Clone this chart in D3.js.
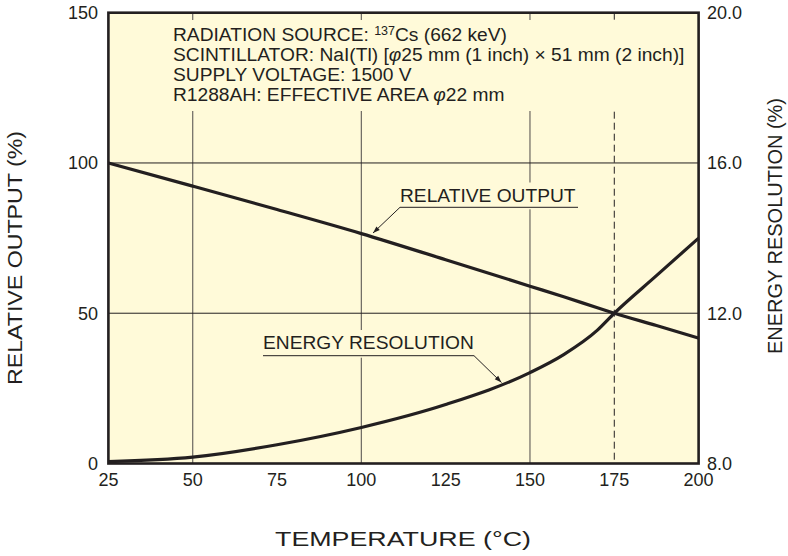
<!DOCTYPE html>
<html><head><meta charset="utf-8">
<script src="https://cdn.jsdelivr.net/npm/d3@7"></script>
<style>
body{margin:0;background:#fff;}
text{font-family:"Liberation Sans",Arial,sans-serif;fill:#231f20;}
</style></head>
<body><svg id="c" width="788" height="556"></svg>
<script>
// ---- data ----
const temperature = [25, 50, 75, 100, 125, 150, 160, 170, 175, 187.5, 200];
const relativeOutput = [100, 92.3, 84.5, 76.5, 67.8, 59, 55.5, 51.8, 50, 45.9, 41.7];
const energyResolution = [8.05, 8.17, 8.5, 8.96, 9.57, 10.42, 10.9, 11.55, 12.0, 13.0, 14.0];
const xTicks = [25, 50, 75, 100, 125, 150, 175, 200];
const leftTicks = [0, 50, 100, 150];
const rightTicks = [8.0, 12.0, 16.0, 20.0];
const vGrid = [50, 100, 150];
const hGrid = [50, 100];
const dashedAt = 175;
const notes = [
  [{t:"RADIATION SOURCE: "},{t:"137",sup:true},{t:"Cs (662 keV)",after:true}],
  [{t:"SCINTILLATOR: NaI(Tl) ["},{t:"\u03c6",it:true},{t:"25 mm (1 inch) \u00d7 51 mm (2 inch)]"}],
  [{t:"SUPPLY VOLTAGE: 1500 V"}],
  [{t:"R1288AH: EFFECTIVE AREA "},{t:"\u03c6",it:true},{t:"22 mm"}]
];

const ink = "#231f20", bg = "#fffad9";
const svg = d3.select("#c");
const L = 108.4, R = 698.6, T = 12.7, B = 463.5;
const x = d3.scaleLinear().domain([25, 200]).range([L, R]);
const yL = d3.scaleLinear().domain([0, 150]).range([B, T]);
const yR = d3.scaleLinear().domain([8, 20]).range([B, T]);

svg.append("rect").attr("x", L).attr("y", T).attr("width", R - L).attr("height", B - T).attr("fill", bg);

// grid
svg.selectAll(".vg").data(vGrid).enter().append("line")
  .attr("x1", d => x(d)).attr("x2", d => x(d)).attr("y1", T).attr("y2", B)
  .attr("stroke", "#6b6660").attr("stroke-width", 1.2);
svg.selectAll(".hg").data(hGrid).enter().append("line")
  .attr("x1", L).attr("x2", R).attr("y1", d => yL(d)).attr("y2", d => yL(d))
  .attr("stroke", ink).attr("stroke-width", 1);
svg.append("line").attr("x1", x(dashedAt)).attr("x2", x(dashedAt)).attr("y1", T).attr("y2", B)
  .attr("stroke", ink).attr("stroke-width", 1).attr("stroke-dasharray", "7,4");

// note block background
svg.append("rect").attr("x", 168).attr("y", 20).attr("width", 526).attr("height", 91).attr("fill", bg);
const nt = svg.append("g");
notes.forEach((line, i) => {
  const t = nt.append("text").attr("x", 173).attr("y", 41 + i * 20).attr("font-size", 19.2);
  line.forEach(s => {
    const ts = t.append("tspan").text(s.t);
    if (s.sup) ts.attr("font-size", 12.5).attr("dy", -6.5);
    else if (s.it) ts.attr("font-style", "italic");
    if (s.after) ts.attr("dy", 6.5);
  });
});

// curves
const lineL = d3.line().x((d, i) => x(temperature[i])).y(d => yL(d)).curve(d3.curveMonotoneX);
const lineR = d3.line().x((d, i) => x(temperature[i])).y(d => yR(d)).curve(d3.curveMonotoneX);
svg.append("path").attr("d", lineL(relativeOutput)).attr("fill", "none").attr("stroke", ink).attr("stroke-width", 3.2);
svg.append("path").attr("d", lineR(energyResolution)).attr("fill", "none").attr("stroke", ink).attr("stroke-width", 3.2);

// annotation labels
svg.append("defs").append("marker").attr("id", "ar").attr("viewBox", "0 0 10 10")
  .attr("refX", 10).attr("refY", 5).attr("markerWidth", 9).attr("markerHeight", 7)
  .attr("markerUnits", "userSpaceOnUse").attr("orient", "auto")
  .append("path").attr("d", "M0,1.5L10,5L0,8.5z").attr("fill", ink);

function label(txt, tx, ty, ux1, ux2, uy, ax, ay) {
  const g = svg.append("g");
  const t = g.append("text").attr("x", tx).attr("y", ty).attr("font-size", 19.2).text(txt);
  const bb = t.node().getBBox();
  g.insert("rect", "text").attr("x", bb.x - 2).attr("y", bb.y - 2).attr("width", bb.width + 4).attr("height", uy - bb.y + 4).attr("fill", bg);
  g.append("line").attr("x1", ux1).attr("x2", ux2).attr("y1", uy).attr("y2", uy).attr("stroke", ink).attr("stroke-width", 1);
  const sx = (ax < ux1) ? ux1 : ux2;
  g.append("line").attr("x1", sx).attr("y1", uy).attr("x2", ax).attr("y2", ay)
    .attr("stroke", ink).attr("stroke-width", 1).attr("marker-end", "url(#ar)");
}
label("RELATIVE OUTPUT", 400, 201.5, 400, 578, 207.3, 373, 233);
label("ENERGY RESOLUTION", 263, 349, 263, 474, 355.7, 501.5, 382.5);

// frame
svg.append("rect").attr("x", L).attr("y", T).attr("width", R - L).attr("height", B - T)
  .attr("fill", "none").attr("stroke", ink).attr("stroke-width", 2.6);

// tick labels
const fs = 18;
svg.selectAll(".xt").data(xTicks).enter().append("text")
  .attr("x", d => x(d)).attr("y", 486).attr("text-anchor", "middle").attr("font-size", fs).text(d => d);
svg.selectAll(".lt").data(leftTicks).enter().append("text")
  .attr("x", 98).attr("y", d => yL(d) + 6.3).attr("text-anchor", "end").attr("font-size", fs).text(d => d);
svg.selectAll(".rt").data(rightTicks).enter().append("text")
  .attr("x", 707).attr("y", d => yR(d) + 6.3).attr("text-anchor", "start").attr("font-size", fs).text(d => d.toFixed(1));

// axis titles
function title(txt, tr, len) {
  svg.append("text").attr("transform", tr).attr("text-anchor", "middle").attr("font-size", 20)
    .attr("textLength", len).attr("lengthAdjust", "spacingAndGlyphs").text(txt);
}
title("TEMPERATURE (\u00b0C)", "translate(403,546)", 256);
title("RELATIVE OUTPUT (%)", "translate(22,258) rotate(-90)", 254);
title("ENERGY RESOLUTION (%)", "translate(782,226) rotate(-90)", 256);
</script></body></html>
